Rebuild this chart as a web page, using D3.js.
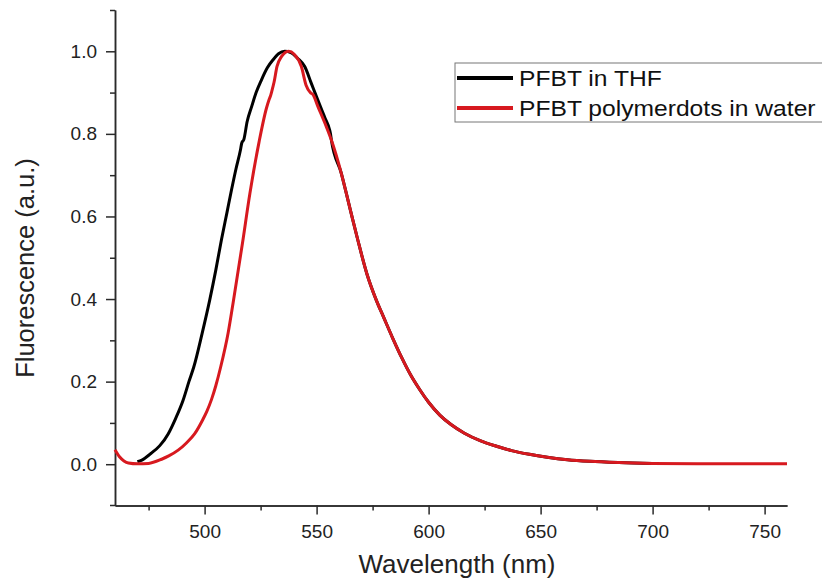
<!DOCTYPE html>
<html>
<head>
<meta charset="utf-8">
<script src="https://cdn.jsdelivr.net/npm/d3@7"></script>
<style>
  html, body { margin: 0; padding: 0; background: #fff; }
  svg { display: block; font-family: Arial, "Liberation Sans", sans-serif; }
</style>
</head>
<body>
<svg id="chart" width="822" height="582"></svg>
<script>
// ---- data ----
const seriesNames = ["PFBT in THF", "PFBT polymerdots in water"];
const seriesColors = ["#000000", "#d7191f"];

const thfWavelength = [470, 472, 476, 480, 483.8, 487, 490.4, 493, 495.2, 498.9, 502.3, 505, 507.5, 510, 512, 514, 516, 516.6, 517.5, 519, 521, 523, 525.4, 528, 530.5, 533, 535.8, 538.5, 541.5, 544.7, 547.6, 549.6, 551.7, 553.8, 555.8, 556.2, 556.6, 561, 564.7, 568.4, 572.4, 576.6, 580, 584, 588, 592, 596, 600, 605, 610, 616, 623, 630, 637, 645, 653, 662, 672, 685, 700];
const thfValue = [0.006, 0.010, 0.026, 0.045, 0.074, 0.110, 0.155, 0.200, 0.236, 0.317, 0.398, 0.470, 0.543, 0.610, 0.664, 0.715, 0.761, 0.778, 0.786, 0.830, 0.866, 0.900, 0.931, 0.960, 0.979, 0.994, 1.000, 0.997, 0.983, 0.963, 0.923, 0.895, 0.866, 0.838, 0.810, 0.800, 0.785, 0.705, 0.624, 0.543, 0.462, 0.398, 0.355, 0.305, 0.258, 0.216, 0.181, 0.150, 0.119, 0.096, 0.075, 0.057, 0.044, 0.033, 0.024, 0.017, 0.011, 0.007, 0.004, 0.002];

const dotsWavelength = [460, 462, 464, 466, 470, 475, 480.8, 484, 488.2, 492, 495.6, 499, 501, 503.1, 505, 507.2, 510.5, 512.7, 516.9, 520.2, 524.3, 527.6, 528.8, 529.6, 530.4, 531, 532.3, 534.3, 537.5, 540, 543.2, 545.3, 547.2, 548.4, 550.6, 554.3, 556.6, 561, 564.7, 568.4, 572.4, 576.6, 580, 584, 588, 592, 596, 600, 605, 610, 616, 623, 630, 637, 645, 653, 662, 672, 685, 700, 720, 740, 760];
const dotsValue = [0.035, 0.018, 0.008, 0.003, 0.001, 0.002, 0.012, 0.020, 0.034, 0.052, 0.074, 0.106, 0.128, 0.157, 0.190, 0.236, 0.318, 0.390, 0.535, 0.655, 0.780, 0.862, 0.883, 0.895, 0.912, 0.925, 0.963, 0.987, 1.000, 0.993, 0.963, 0.918, 0.900, 0.895, 0.866, 0.818, 0.785, 0.705, 0.624, 0.543, 0.462, 0.398, 0.355, 0.305, 0.258, 0.216, 0.181, 0.150, 0.119, 0.096, 0.075, 0.057, 0.044, 0.033, 0.024, 0.017, 0.011, 0.007, 0.004, 0.002, 0.001, 0.001, 0.001];

const xMajorTicks = [500, 550, 600, 650, 700, 750];
const xMinorTicks = [475, 525, 575, 625, 675, 725];
const yMajorTicks = [0.0, 0.2, 0.4, 0.6, 0.8, 1.0];
const yMinorTicks = [0.1, 0.3, 0.5, 0.7, 0.9, 1.1];
const xTitle = "Wavelength (nm)";
const yTitle = "Fluorescence (a.u.)";

// ---- layout ----
const svg = d3.select("#chart");
const plotLeft = 115, plotRight = 787, plotTop = 10, plotBottom = 505.5;
const x = d3.scaleLinear().domain([460, 760]).range([plotLeft, plotRight]);
const y = d3.scaleLinear().domain([-0.1, 1.1]).range([plotBottom, plotTop]);
const axisColor = "#2a2a2a";

function styleAxis(g) {
  g.selectAll("path.domain").attr("stroke", axisColor).attr("stroke-width", 1.5);
  g.selectAll(".tick line").attr("stroke", axisColor).attr("stroke-width", 1.5);
  g.selectAll(".tick text").attr("fill", "#222").style("font-size", "19px")
    .style("font-family", "Arial, 'Liberation Sans', sans-serif");
}

// minor ticks
svg.append("g").attr("transform", `translate(0,${plotBottom})`)
  .call(d3.axisBottom(x).tickValues(xMinorTicks).tickSize(5).tickSizeOuter(0).tickFormat(""))
  .call(styleAxis);
svg.append("g").attr("transform", `translate(${plotLeft},0)`)
  .call(d3.axisLeft(y).tickValues(yMinorTicks).tickSize(5).tickSizeOuter(0).tickFormat(""))
  .call(styleAxis);
// major ticks
svg.append("g").attr("transform", `translate(0,${plotBottom})`)
  .call(d3.axisBottom(x).tickValues(xMajorTicks).tickSize(9).tickSizeOuter(0).tickPadding(10).tickFormat(d3.format("d")))
  .call(styleAxis);
svg.append("g").attr("transform", `translate(${plotLeft},0)`)
  .call(d3.axisLeft(y).tickValues(yMajorTicks).tickSize(9).tickSizeOuter(0).tickPadding(9).tickFormat(d3.format(".1f")))
  .call(styleAxis);
// x axis line extends slightly left of the y axis
svg.append("line").attr("x1", plotLeft - 5).attr("x2", plotLeft)
  .attr("y1", plotBottom).attr("y2", plotBottom)
  .attr("stroke", axisColor).attr("stroke-width", 1.5);

// axis titles
svg.append("text")
  .attr("x", 457).attr("y", 573)
  .attr("text-anchor", "middle")
  .attr("fill", "#222")
  .style("font-size", "26px")
  .text(xTitle);
svg.append("text")
  .attr("transform", `translate(34,268) rotate(-90)`)
  .attr("text-anchor", "middle")
  .attr("fill", "#222")
  .style("font-size", "25.5px")
  .text(yTitle);

// lines
const line = d3.line().x(d => x(d[0])).y(d => y(d[1])).curve(d3.curveMonotoneX);
const thfData = thfWavelength.map((w, i) => [w, thfValue[i]]);
const dotsData = dotsWavelength.map((w, i) => [w, dotsValue[i]]);

svg.append("path").datum(thfData)
  .attr("d", line).attr("fill", "none")
  .attr("stroke", seriesColors[0]).attr("stroke-width", 3).attr("stroke-linejoin", "round");
svg.append("path").datum(dotsData)
  .attr("d", line).attr("fill", "none")
  .attr("stroke", seriesColors[1]).attr("stroke-width", 3).attr("stroke-linejoin", "round");

// legend
const lg = svg.append("g");
lg.append("rect").attr("x", 455).attr("y", 63).attr("width", 380).attr("height", 59)
  .attr("fill", "#fff").attr("stroke", "#777").attr("stroke-width", 1);
seriesNames.forEach((name, i) => {
  const cy = 78 + i * 30;
  lg.append("line").attr("x1", 457).attr("x2", 513).attr("y1", cy).attr("y2", cy)
    .attr("stroke", seriesColors[i]).attr("stroke-width", 4);
  lg.append("text")
    .attr("transform", `translate(519,${cy + 8}) scale(1.12,1)`)
    .attr("fill", "#111").style("font-size", "22px")
    .text(name);
});
</script>
</body>
</html>
